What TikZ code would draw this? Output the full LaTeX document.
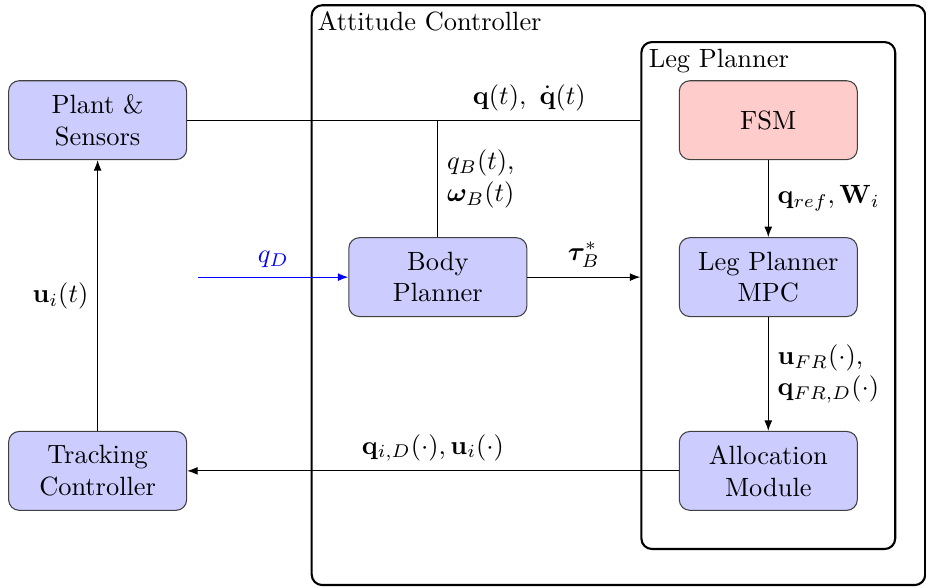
\documentclass[tikz,border=0pt]{standalone}
\usepackage{amsmath}
\usepackage{bm}
\usepackage{tikz}
\usetikzlibrary{arrows.meta, positioning}
\usepackage{xcolor}

\tikzset{
    block/.style={draw=black!75, rounded corners, fill=blue!20, minimum width=2.37cm, minimum height=1.05cm, align=center},
    frame/.style={draw, thick, rounded corners, minimum width=#1},
    arr/.style={-{Latex[length=4pt,width=3pt]}}
}

\begin{document}
\begin{tikzpicture}
        \useasboundingbox (0,0) rectangle (12.33,-7.82);
        
        % outer frames
        \node[frame=8.17cm, minimum height=7.72cm] (att) at (8.235,-3.93) {};
        \node[frame=3.38cm, minimum height=6.75cm] (leg) at (10.23,-3.935) {};
        \node[anchor=north west, inner sep=2.5pt] at (att.north west) {Attitude Controller};
        \node[anchor=north west, inner sep=3pt] at (leg.north west) {Leg Planner};
        
        % blocks
        \node[block] (plant) at (1.30,-1.60) {Plant \&\\Sensors};
        \node[block] (track) at (1.30,-6.27) {Tracking\\Controller};
        \node[block] (body) at (5.83,-3.69) {Body\\Planner};
        \node[block, fill=red!20] (fsm) at (10.23,-1.60) {FSM};
        \node[block] (mpc) at (10.23,-3.69) {Leg Planner\\MPC};
        \node[block] (alloc) at (10.23,-6.27) {Allocation\\Module};
        \coordinate (qd) at (2.64,-3.69);
        
        % signals
        \draw (plant.east) -- node[pos=0.755, above] {$\mathbf{q}(t),\ \dot{\mathbf{q}}(t)$} (plant.east -| leg.west);
        \draw (body.north) -- node[right, align=left] {$q_B(t)$,\\$\bm{\omega}_B(t)$} (body.north |- plant.east);
        \draw[arr, blue] (qd) -- node[above] {$q_D$} (body.west);
        \draw[arr] (body.east) -- node[above] {$\bm{\tau}_B^*$} (body.east -| leg.west);
        \draw[arr] (fsm) -- node[right] {$\mathbf{q}_{ref}, \mathbf{W}_i$} (mpc);
        \draw[arr] (mpc) -- node[right, align=left] {$\mathbf{u}_{FR}(\cdot)$,\\$\mathbf{q}_{FR,D}(\cdot)$} (alloc);
        \draw[arr] (alloc) -- node[above] {$\mathbf{q}_{i,D}(\cdot), \mathbf{u}_i(\cdot)$} (track);
        \draw[arr] (track) -- node[left] {$\mathbf{u}_i(t)$} (plant);
    \end{tikzpicture}
\end{document}
